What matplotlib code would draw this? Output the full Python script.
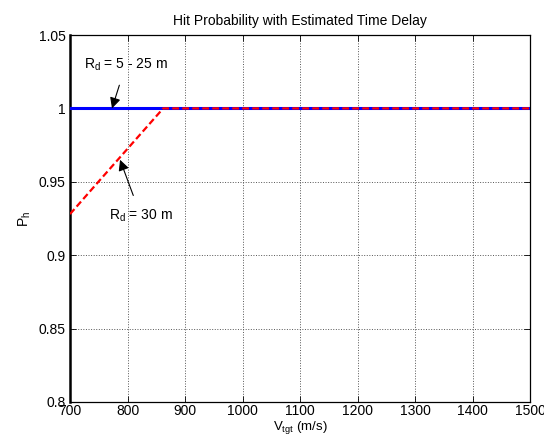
import matplotlib.pyplot as plt

plt.rcParams['font.family'] = ['Liberation Sans', 'DejaVu Sans']
plt.rcParams['font.size'] = 10
plt.rcParams['mathtext.fontset'] = 'custom'
plt.rcParams['mathtext.rm'] = 'Liberation Sans'
plt.rcParams['mathtext.it'] = 'Liberation Sans'

# data
v_blue = [700, 1500]
ph_blue = [1.0, 1.0]
v_red = [700, 750, 800, 862, 1000, 1200, 1500]
ph_red = [0.928, 0.9503, 0.9725, 1.0, 1.0, 1.0, 1.0]

x_ticks = [700, 800, 900, 1000, 1100, 1200, 1300, 1400, 1500]
y_ticks = [0.8, 0.85, 0.9, 0.95, 1.0, 1.05]
y_labels = ['0.8', '0.85', '0.9', '0.95', '1', '1.05']

fig = plt.figure(figsize=(5.44, 4.36), dpi=100)
ax = fig.add_axes([0.1287, 0.078, 0.8456, 0.8417])

ax.plot(v_blue, ph_blue, color='#0000ff', linewidth=2.2, zorder=3)
ax.plot(v_red, ph_red, color='#ff0000', linewidth=1.6, linestyle=(0, (3, 1.5)), zorder=4)

ax.set_xlim(700, 1500)
ax.set_ylim(0.8, 1.05)
ax.set_xticks(x_ticks)
ax.set_yticks(y_ticks)
ax.set_yticklabels(y_labels)
ax.tick_params(direction='in', length=4, width=0.6, top=True, right=True, pad=3)
ax.tick_params(axis='x', pad=1.5)
ax.grid(True, color='#555555', linestyle=':', linewidth=0.7)
for s in ax.spines.values():
    s.set_linewidth(0.9)
ax.spines['left'].set_linewidth(1.8)

ax.set_title('Hit Probability with Estimated Time Delay', fontsize=10, pad=7)
ax.set_xlabel(r'V$_{\mathrm{tgt}}$ (m/s)', fontsize=9.5, va='center')
ax.xaxis.set_label_coords(0.5, -0.069)
ax.set_ylabel(r'P$_{\mathrm{h}}$', labelpad=4)

arrow = dict(arrowstyle='-|>', color='black', lw=0.8, shrinkA=7, shrinkB=0,
             mutation_scale=16)
ax.annotate(r'R$_{\mathrm{d}}$ = 5 - 25 m', xy=(773, 1.0), xytext=(797, 1.0296),
            ha='center', va='center', arrowprops=arrow)
ax.annotate(r'R$_{\mathrm{d}}$ = 30 m', xy=(787, 0.965), xytext=(823, 0.927),
            ha='center', va='center', arrowprops=arrow)

fig.savefig('out.png', dpi=100)
